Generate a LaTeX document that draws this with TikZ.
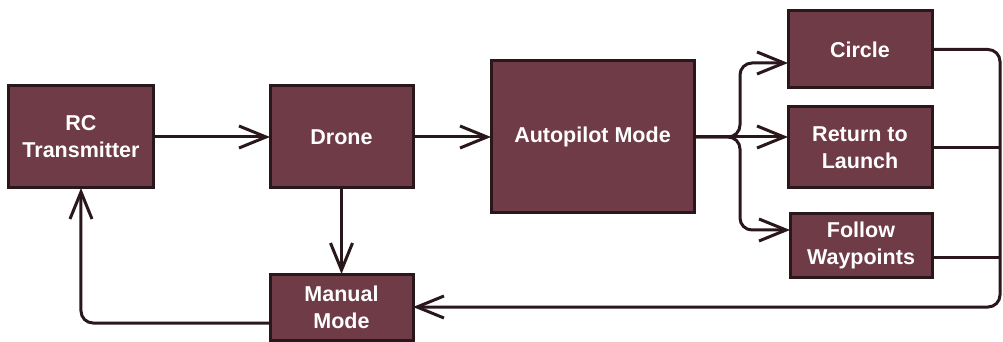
\documentclass[tikz,border=0pt]{standalone}
\usepackage{fontspec}
\setmainfont{Liberation Sans}
\usetikzlibrary{arrows.meta,positioning}
\definecolor{boxfill}{HTML}{6E3B47}
\definecolor{boxline}{HTML}{2A171B}

\begin{document}
\begin{tikzpicture}[
  font=\fontsize{21.5}{27}\selectfont\bfseries,
  block/.style={draw=boxline, line width=3pt, fill=boxfill, text=white, align=center, inner sep=0pt, outer sep=0pt},
  wire/.style={draw=boxline, line width=3pt, rounded corners=12pt},
  flow/.style={wire, -{Straight Barb[length=27pt,width=22pt]}}
]
\useasboundingbox (-81pt,-205pt) rectangle (922pt,137pt);
\node[block, minimum width=144pt, minimum height=102pt] (rc) at (0,0) {RC\\Transmitter};
\node[block, minimum width=143pt, minimum height=102pt, right=117pt of rc] (drone) {Drone};
\node[block, minimum width=203pt, minimum height=152pt, right=78pt of drone] (auto) {Autopilot Mode};
\node[block, minimum width=144pt, minimum height=77pt, right=94pt of auto, yshift=87.5pt] (circle) {Circle};
\node[block, minimum width=144pt, minimum height=81pt, right=94pt of auto, yshift=-10.5pt] (rtl) {Return to\\Launch};
\node[block, minimum width=142pt, minimum height=63pt, right=96pt of auto, yshift=-108.5pt] (follow) {Follow\\Waypoints};
\node[block, minimum width=143pt, minimum height=66pt, below=86pt of drone] (manual) {Manual\\Mode};

\coordinate (fork) at ([xshift=46pt]auto.east);
\coordinate (bus) at ([xshift=68pt]circle.east);

\draw[flow] (rc.east) -- (drone.west);
\draw[flow] (drone.east) -- (auto.west);
\draw[flow] (drone.south) -- (manual.north);
\draw[flow] (auto.east) -- (fork) |- ([yshift=-13.5pt]circle.west);
\draw[flow] (auto.east) -- (rtl.west |- auto.east);
\draw[flow] (auto.east) -- (fork) |- ([yshift=15.5pt]follow.west);
\draw[flow] (circle.east) -- (bus) |- (manual.east);
\draw[wire] (rtl.east) -- (rtl.east -| bus);
\draw[wire] ([yshift=-11.5pt]follow.east) -- ([yshift=-11.5pt]follow.east -| bus);
\draw[flow] ([yshift=-16pt]manual.west) -| (rc.south);
\end{tikzpicture}
\end{document}
